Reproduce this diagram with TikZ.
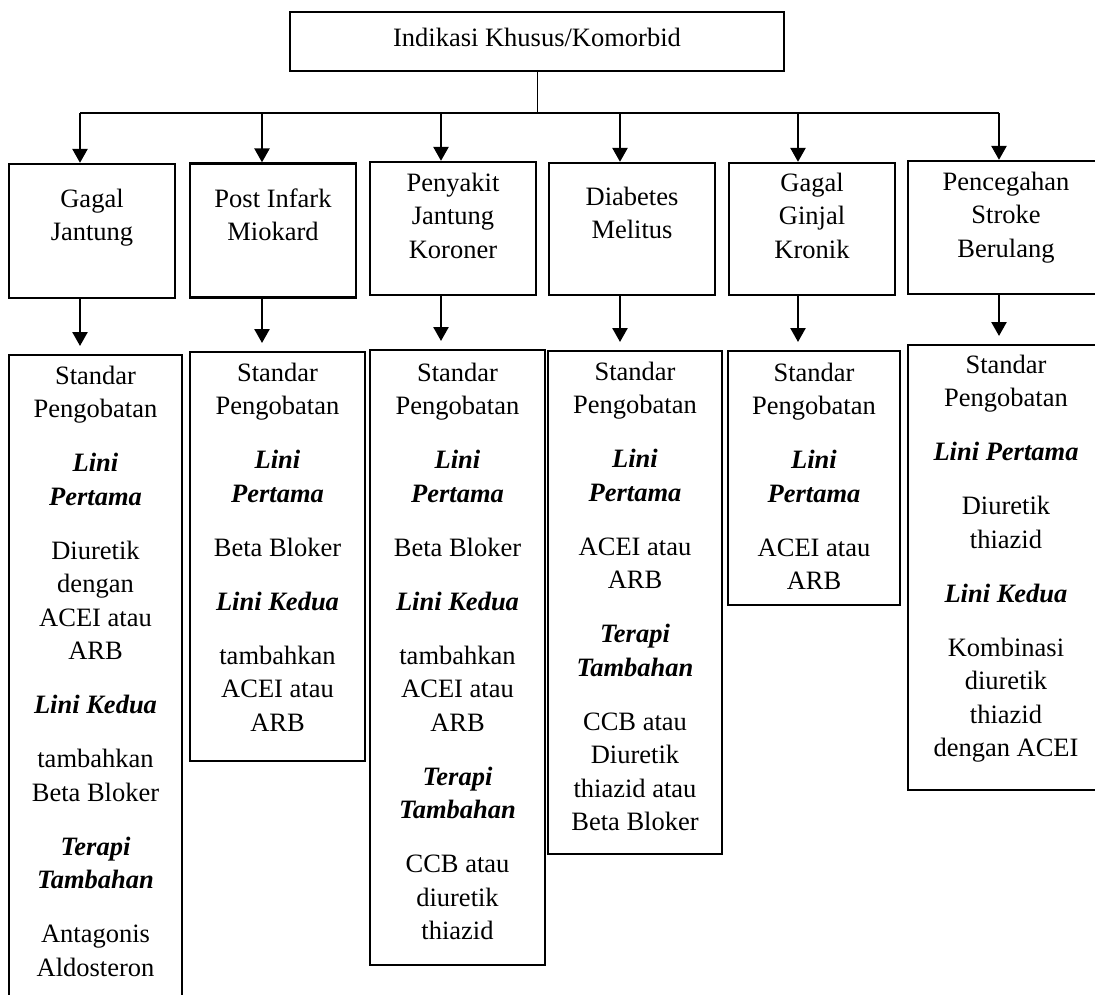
\documentclass[tikz,border=0pt]{standalone}
\usepackage{fontspec}
\setmainfont{Liberation Serif}
\usetikzlibrary{arrows.meta, positioning, calc}
\newcommand{\subjudul}[1]{\textbf{\textit{#1}}}

\begin{document}
\begin{tikzpicture}[x=1pt, y=-1pt,
    kotak/.style={draw=black, line width=2.3pt, inner sep=0pt},
    teks/.style={align=center, inner sep=0pt, anchor=north, font=\fontsize{26.5}{33.5}\selectfont, execute at begin node=\strut},
    panah/.style={line width=2.5pt, -{Triangle[length=14pt, width=15pt]}},
    garis/.style={line width=1.7pt}]
    \useasboundingbox (0,0) rectangle (1095,994);
    \clip (0,0) rectangle (1095,994);

    % kotak paling atas
    \node[draw=black, line width=1.7pt, minimum width=494pt, minimum height=59pt, text height=18pt, text depth=9pt, font=\fontsize{26.5}{33.5}\selectfont] (indikasi) at (537,41.5) {Indikasi Khusus/Komorbid};

    \coordinate (hub) at (537,113);
    \coordinate (p1) at (80,113);
    \coordinate (p2) at (262,113);
    \coordinate (p3) at (441,113);
    \coordinate (p4) at (620,113);
    \coordinate (p5) at (798,113);
    \coordinate (p6) at (999,113);
    \draw[line width=1pt] (indikasi.south) -- (hub);
    \draw[garis] (p1) -- (p6);

    % baris kedua: indikasi
    \node[kotak, minimum width=166pt, minimum height=134pt] (gj) at (92,231) {};
    \node[kotak, minimum width=166pt, minimum height=134pt] (pim) at (273,230.5) {};
    \node[kotak, minimum width=166pt, minimum height=133pt] (pjk) at (453,228.5) {};
    \node[kotak, minimum width=166pt, minimum height=132pt] (dm) at (632,229) {};
    \node[kotak, minimum width=166pt, minimum height=132pt] (ggk) at (812,229) {};
    \node[kotak, minimum width=196pt, minimum height=133pt] (psb) at (1006,227.5) {};

    \node[teks] (gjt) at (92,188.5) {Gagal\\Jantung};
    \node[teks] (pimt) at (273,188.5) {Post Infark\\Miokard};
    \node[teks] (pjkt) at (453,172.5) {Penyakit\\Jantung\\Koroner};
    \node[teks] (dmt) at (632,186.5) {Diabetes\\Melitus};
    \node[teks] (ggkt) at (812,172.5) {Gagal\\Ginjal\\Kronik};
    \node[teks] (psbt) at (1006,171.5) {Pencegahan\\Stroke\\Berulang};

    % baris ketiga: standar pengobatan
    \node[kotak, anchor=north, minimum width=173pt, minimum height=656pt] (gj2) at (95.5,354) {};
    \node[kotak, anchor=north, minimum width=175pt, minimum height=409pt] (pim2) at (277.5,351) {};
    \node[kotak, anchor=north, minimum width=175pt, minimum height=615pt] (pjk2) at (457.5,349) {};
    \node[kotak, anchor=north, minimum width=174pt, minimum height=503pt] (dm2) at (635,350) {};
    \node[kotak, anchor=north, minimum width=172pt, minimum height=254pt] (ggk2) at (814,350) {};
    \node[kotak, anchor=north, minimum width=196pt, minimum height=445pt] (psb2) at (1006,344) {};

    \node[teks] (gj2t) at (95.5,365.5) {Standar\\Pengobatan\\[20.5pt]
        \subjudul{Lini}\\\subjudul{Pertama}\\[20.5pt]
        Diuretik\\dengan\\ACEI atau\\ARB\\[20.5pt]
        \subjudul{Lini Kedua}\\[20.5pt]
        tambahkan\\Beta Bloker\\[20.5pt]
        \subjudul{Terapi}\\\subjudul{Tambahan}\\[20.5pt]
        Antagonis\\Aldosteron};
    \node[teks] (pim2t) at (277.5,362.5) {Standar\\Pengobatan\\[20.5pt]
        \subjudul{Lini}\\\subjudul{Pertama}\\[20.5pt]
        Beta Bloker\\[20.5pt]
        \subjudul{Lini Kedua}\\[20.5pt]
        tambahkan\\ACEI atau\\ARB};
    \node[teks] (pjk2t) at (457.5,362.5) {Standar\\Pengobatan\\[20.5pt]
        \subjudul{Lini}\\\subjudul{Pertama}\\[20.5pt]
        Beta Bloker\\[20.5pt]
        \subjudul{Lini Kedua}\\[20.5pt]
        tambahkan\\ACEI atau\\ARB\\[20.5pt]
        \subjudul{Terapi}\\\subjudul{Tambahan}\\[20.5pt]
        CCB atau\\diuretik\\thiazid};
    \node[teks] (dm2t) at (635,361.5) {Standar\\Pengobatan\\[20.5pt]
        \subjudul{Lini}\\\subjudul{Pertama}\\[20.5pt]
        ACEI atau\\ARB\\[20.5pt]
        \subjudul{Terapi}\\\subjudul{Tambahan}\\[20.5pt]
        CCB atau\\Diuretik\\thiazid atau\\Beta Bloker};
    % teks terpotong di bawah
    \begin{scope}
        \clip (728,350) rectangle (900,590);
        \node[teks] (ggk2t) at (814,362.5) {Standar\\Pengobatan\\[20.5pt]
            \subjudul{Lini}\\\subjudul{Pertama}\\[20.5pt]
            ACEI atau\\ARB};
    \end{scope}
    \node[teks] (psb2t) at (1006,354.5) {Standar\\Pengobatan\\[20.5pt]
        \subjudul{Lini Pertama}\\[20.5pt]
        Diuretik\\thiazid\\[20.5pt]
        \subjudul{Lini Kedua}\\[20.5pt]
        Kombinasi\\diuretik\\thiazid\\dengan ACEI};

    % panah
    \draw[panah] (p1) -- (p1 |- gj.north);
    \draw[panah] (p2) -- (p2 |- pim.north);
    \draw[panah] (p3) -- (p3 |- pjk.north);
    \draw[panah] (p4) -- (p4 |- dm.north);
    \draw[panah] (p5) -- (p5 |- ggk.north);
    \draw[panah] (p6) -- (p6 |- psb.north);

    \draw[panah, shorten >=8pt] (p1 |- gj.south) -- (p1 |- gj2.north);
    \draw[panah, shorten >=8pt] (p2 |- pim.south) -- (p2 |- pim2.north);
    \draw[panah, shorten >=8pt] (p3 |- pjk.south) -- (p3 |- pjk2.north);
    \draw[panah, shorten >=8pt] (p4 |- dm.south) -- (p4 |- dm2.north);
    \draw[panah, shorten >=8pt] (p5 |- ggk.south) -- (p5 |- ggk2.north);
    \draw[panah, shorten >=8pt] (p6 |- psb.south) -- (p6 |- psb2.north);
\end{tikzpicture}
\end{document}
